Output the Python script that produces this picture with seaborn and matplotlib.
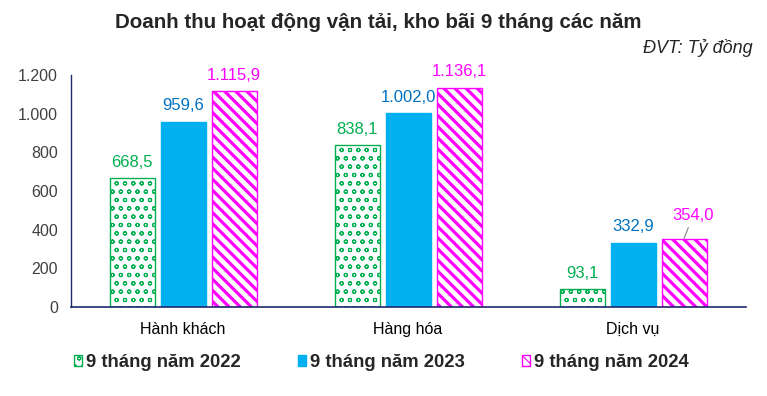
import pandas as pd
import seaborn as sns
import matplotlib.pyplot as plt
from matplotlib.ticker import FuncFormatter
from matplotlib.patches import Patch

categories = ["Hành khách", "Hàng hóa", "Dịch vụ"]
series = ["9 tháng năm 2022", "9 tháng năm 2023", "9 tháng năm 2024"]
v2022 = [668.5, 838.1, 93.1]
v2023 = [959.6, 1002.0, 332.9]
v2024 = [1115.9, 1136.1, 354.0]

df = pd.DataFrame({
    "cat": categories * 3,
    "nam": [series[0]] * 3 + [series[1]] * 3 + [series[2]] * 3,
    "gia_tri": v2022 + v2023 + v2024,
})

sns.set_style("white")
plt.rcParams["font.family"] = ["Liberation Sans", "DejaVu Sans"]

mau_vien = ["#00B050", "#00B0F0", "#FF00FF"]
mau_nen = ["white", "#00B0F0", "white"]
mau_chu = ["#00B050", "#0070C0", "#FF00FF"]
hatches = ["oo", "", "\\\\\\"]
hatch_lw = [0.8, 1.0, 2.3]


def dat_hatch_lw(p, lw):
    if hasattr(p, "set_hatch_linewidth"):
        p.set_hatch_linewidth(lw)
    else:
        p._hatch_linewidth = lw


def dinh_dang(v):
    return f"{v:,.1f}".replace(",", "X").replace(".", ",").replace("X", ".")


fig, ax = plt.subplots(figsize=(7.67, 3.96), dpi=100)
fig.subplots_adjust(left=0.092, right=0.972, top=0.81, bottom=0.225)

sns.barplot(data=df, x="cat", y="gia_tri", hue="nam", order=categories,
            hue_order=series, width=0.68, ax=ax, legend=False)

for i, cont in enumerate(ax.containers):
    for p in cont.patches:
        cx = p.get_x() + p.get_width() / 2
        p.set_width(0.2)
        p.set_x(cx - 0.1)
        p.set_facecolor(mau_nen[i])
        p.set_edgecolor(mau_vien[i])
        p.set_hatch(hatches[i])
        dat_hatch_lw(p, hatch_lw[i])
        p.set_linewidth(1.0)
    nhan = [dinh_dang(v) for v in cont.datavalues]
    if i == 2:
        nhan_ve = nhan[:2] + [""]
    else:
        nhan_ve = nhan
    ax.bar_label(cont, labels=nhan_ve, padding=6, color=mau_chu[i], fontsize=12)

# nhan Dich vu 2024 co duong dan
p = ax.containers[2].patches[2]
px = p.get_x() + p.get_width() / 2
ax.annotate(nhan[2], xy=(px, v2024[2]), xytext=(px + 0.04, v2024[2] + 80),
            color=mau_chu[2], fontsize=12, ha="center", va="bottom",
            arrowprops=dict(arrowstyle="-", color="#808080", lw=0.8,
                            shrinkA=1, shrinkB=0))

ax.set_ylim(0, 1200)
ax.set_yticks(range(0, 1201, 200))
ax.yaxis.set_major_formatter(FuncFormatter(lambda v, _: f"{int(v):,}".replace(",", ".")))
ax.set_xlim(-0.5, 2.5)
ax.set_xlabel("")
ax.set_ylabel("")
ax.tick_params(axis="both", length=0, labelsize=11.5, colors="#404040")
ax.tick_params(axis="y", pad=9)
ax.tick_params(axis="x", pad=11)
for lbl in ax.get_xticklabels():
    lbl.set_color("black")
    lbl.set_fontsize(11.5)
for s in ["top", "right"]:
    ax.spines[s].set_visible(False)
ax.spines["left"].set_color("#1F2A6B")
ax.spines["bottom"].set_color("#1F2A6B")
ax.spines["left"].set_linewidth(1.0)
ax.spines["bottom"].set_linewidth(1.2)

fig.suptitle("Doanh thu hoạt động vận tải, kho bãi 9 tháng các năm",
             fontsize=14.8, fontweight="bold", x=0.493, y=0.968)
fig.text(0.981, 0.878, "ĐVT: Tỷ đồng", ha="right", va="center",
         fontsize=13, style="italic")

handles = [Patch(facecolor=mau_nen[i], edgecolor=mau_vien[i], hatch=hatches[i],
                 label=series[i]) for i in range(3)]
fig.legend(handles=handles, loc="center", bbox_to_anchor=(0.497, 0.085), ncol=3,
           frameon=False, handlelength=0.45, handleheight=0.5, handletextpad=0.2,
           columnspacing=3.1, prop={"weight": "bold", "size": 13.3})
for h in fig.legends[0].legend_handles:
    dat_hatch_lw(h, 0.8)

fig.savefig("out.png", dpi=100)
